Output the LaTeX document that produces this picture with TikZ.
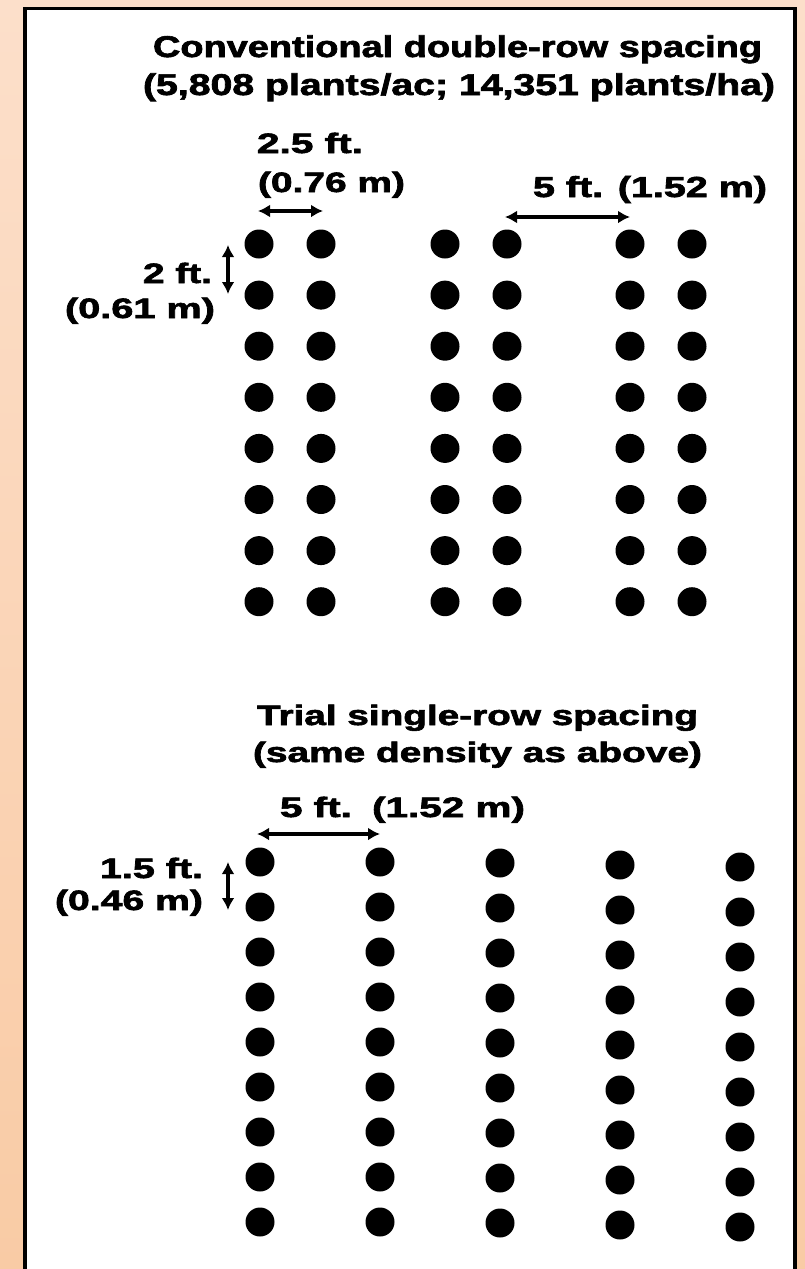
\documentclass[tikz,border=0pt]{standalone}
\usepackage{fontspec}
\setmainfont{Liberation Sans}[BoldFeatures={FakeBold=2}]
\usepackage{graphicx}
\usetikzlibrary{arrows.meta}
% bold label at a given size, stretched horizontally to a given width
\newcommand\wtext[3]{{\fontsize{#1pt}{#1pt}\selectfont\bfseries\resizebox{#2pt}{\height}{#3}}}
\definecolor{peachtop}{RGB}{252,223,202}
\definecolor{peachbot}{RGB}{249,203,165}
\tikzset{
  lbl/.style={inner sep=0pt, outer sep=0pt, anchor=base west},
  plant/.style={circle, fill=black, inner sep=0pt, minimum size=29pt},
  dim/.style={{Latex[length=12pt,width=13pt]}-{Latex[length=12pt,width=13pt]}, line width=3.6pt},
}
\begin{document}
\begin{tikzpicture}[x=1pt,y=-1pt]
\clip (0,0) rectangle (805,1269);
\useasboundingbox (0,0) rectangle (805,1269);
\shade[top color=peachtop, bottom color=peachbot] (0,0) rectangle (805,1269);
% white panel with black frame, open at the bottom
\fill[white] (25,8.5) rectangle (795,1300);
\draw[line width=3.5pt] (795,1300) -- (795,8.5) -- (25,8.5) -- (25,1300);

% ---- conventional double-row layout ----
\node[lbl] (t1) at (153,57) {\wtext{30}{609}{Conventional double-row spacing}};
\node[lbl] (t2) at (143,95) {\wtext{30}{632}{(5,808 plants/ac; 14,351 plants/ha)}};
\node[lbl] (s1) at (257,153) {\wtext{28}{106}{2.5 ft.}};
\node[lbl] (s2) at (258,192) {\wtext{28}{147}{(0.76 m)}};
\node[lbl] (s3) at (533,197) {\wtext{29}{234}{5 ft. (1.52 m)}};
\node[lbl] (s4) at (143,283) {\wtext{28}{69}{2 ft.}};
\node[lbl] (s5) at (65,318) {\wtext{28}{150}{(0.61 m)}};

\foreach \x [count=\c] in {259,321,445,507,630,692}
  \foreach \r in {0,...,7}
    \node[plant] (a-\c-\r) at (\x,{244+51.1*\r}) {};

\coordinate (h1a) at (258,211);
\coordinate (h1b) at (323,211);
\coordinate (h2a) at (505,217);
\coordinate (h2b) at (630,217);
\coordinate (v1a) at (228,245);
\coordinate (v1b) at (228,294);
\draw[dim] (h1a) -- (h1b);
\draw[dim] (h2a) -- (h2b);
\draw[dim] (v1a) -- (v1b);

% ---- trial single-row layout ----
\node[lbl] (u1) at (257,725) {\wtext{28}{441}{Trial single-row spacing}};
\node[lbl] (u2) at (253,762) {\wtext{28}{449}{(same density as above)}};
\node[lbl] (u3) at (280,817) {\wtext{28}{245}{5 ft.\hspace{14pt}(1.52 m)}};
\node[lbl] (u4) at (100,878) {\wtext{28}{103}{1.5 ft.}};
\node[lbl] (u5) at (55,910) {\wtext{28}{148}{(0.46 m)}};

\foreach \x/\o [count=\c] in {260/0,380/0,500/1,620/3,740/5}
  \foreach \r in {0,...,8}
    \node[plant] (b-\c-\r) at (\x,{862+\o+45*\r}) {};

\coordinate (h3a) at (257,834);
\coordinate (h3b) at (380,834);
\coordinate (v2a) at (228,862);
\coordinate (v2b) at (228,910);
\draw[dim] (h3a) -- (h3b);
\draw[dim] (v2a) -- (v2b);
\end{tikzpicture}
\end{document}
